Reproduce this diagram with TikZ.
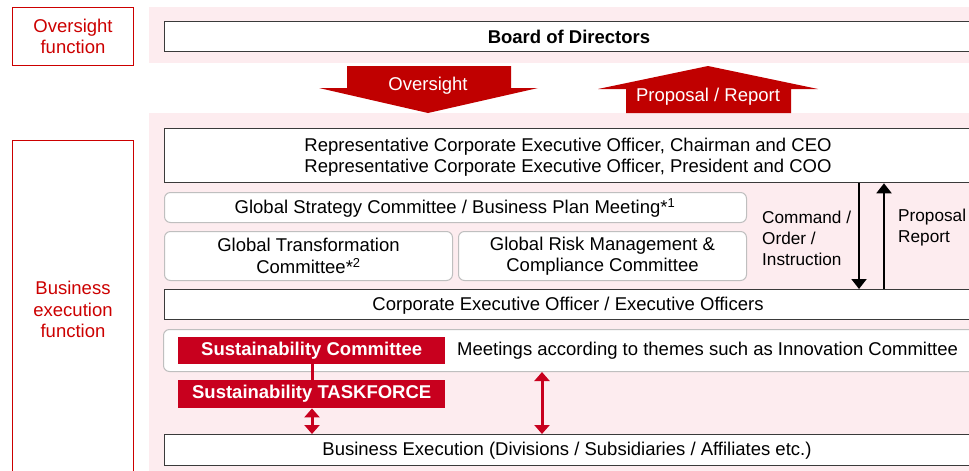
\documentclass[tikz,border=0pt]{standalone}
\usepackage{fontspec}
\setmainfont{Liberation Sans}
\usetikzlibrary{arrows.meta}
\definecolor{bandpink}{HTML}{FDECEF}
\definecolor{darkred}{HTML}{C00000}
\definecolor{sustred}{HTML}{C8001E}
\definecolor{labelred}{HTML}{CC0000}
\definecolor{boxline}{HTML}{3A3A3A}
\definecolor{roundline}{HTML}{BFBFBF}
\tikzset{
  every node/.style={font=\fontsize{18.5}{21.5}\selectfont, inner sep=0pt},
  band/.style={fill=bandpink, draw=none},
  sqbox/.style={draw=boxline, line width=1.3pt, fill=white, anchor=north west},
  rbox/.style={draw=roundline, line width=1pt, fill=white, rounded corners=6pt, anchor=north west},
  fnbox/.style={draw=labelred, line width=1pt, text=labelred, align=center, anchor=north west},
  susbox/.style={fill=sustred, text=white, font=\fontsize{18.5}{21.5}\selectfont\bfseries, anchor=north west},
  sidelabel/.style={align=left, anchor=west, font=\fontsize{17.2}{21}\selectfont},
  bigarrow/.style={fill=darkred, draw=none},
  blackarrow/.style={line width=2pt, -{Triangle[width=15pt,length=10pt]}},
  redarrow/.style={draw=sustred, line width=3pt, {Triangle[width=15pt,length=9pt]}-{Triangle[width=15pt,length=9pt]}},
}
\begin{document}
\begin{tikzpicture}[x=1pt, y=-1pt]
\useasboundingbox (0,0) rectangle (969,471);
% bands
\fill[band] (149,7) rectangle (969,63);
\fill[band] (149,113) rectangle (969,471);
% function labels
\node[fnbox, minimum width=121pt, minimum height=58pt] (ovf) at (12,7) {Oversight\\function};
\node[fnbox, minimum width=121pt, minimum height=338pt] (bef) at (12,140) {Business\\execution\\function};
% board
\node[sqbox, minimum width=810pt, minimum height=30pt] (board) at (164,21) {};
\node[font=\fontsize{18.5}{21.5}\selectfont\bfseries] (boardt) at (569,37) {Board of Directors};
% big arrows
\fill[bigarrow] (347,66) -- (511,66) -- (511,88) -- (538,88) -- (428,113) -- (319,88) -- (347,88) -- cycle;
\node[text=white] (ovt) at (428,86) {Oversight};
\fill[bigarrow] (626,113) -- (791,113) -- (791,89) -- (818,89) -- (708,66) -- (598,89) -- (626,89) -- cycle;
\node[text=white] (prt) at (708,97) {Proposal / Report};
% representative
\node[sqbox, minimum width=810pt, minimum height=54pt] (rep) at (164,128) {};
\node[align=center] (rept) at (568,157) {Representative Corporate Executive Officer, Chairman and CEO\\Representative Corporate Executive Officer, President and COO};
% committees
\node[rbox, minimum width=582pt, minimum height=30pt] (gsc) at (164,192) {};
\node (gsct) at (455,208) {Global Strategy Committee / Business Plan Meeting*\textsuperscript{1}};
\node[rbox, minimum width=288pt, minimum height=49pt, align=center] (gtc) at (164,231) {Global Transformation\\Committee*\textsuperscript{2}};
\node[rbox, minimum width=288pt, minimum height=49pt, align=center] (grc) at (458,231) {Global Risk Management \&\\Compliance Committee};
\node[sidelabel] (cmd) at (762,238) {Command /\\Order /\\Instruction};
\node[sidelabel] (prp) at (898,228) {Proposal\\Report};
% corporate executive officers
\node[sqbox, minimum width=810pt, minimum height=30pt] (ceo) at (164,289) {};
\node (ceot) at (568,306) {Corporate Executive Officer / Executive Officers};
\coordinate (xa) at (859,0);
\coordinate (xb) at (884,0);
\draw[blackarrow] (rep.south -| xa) -- (ceo.north -| xa);
\draw[blackarrow] (ceo.north -| xb) -- (rep.south -| xb);
% meetings
\node[rbox, minimum width=815pt, minimum height=42pt] (mtg) at (163,329) {};
\node[anchor=west] (mtgt) at (457,351) {Meetings according to themes such as Innovation Committee};
\node[susbox, minimum width=267pt, minimum height=27pt] (susc) at (178,337) {Sustainability Committee};
\node[susbox, minimum width=267pt, minimum height=28pt] (tf) at (178,380) {Sustainability TASKFORCE};
\coordinate (xc) at (312,0);
\coordinate (xd) at (542,0);
\draw[sustred, line width=3pt] (susc.south -| xc) -- (tf.north -| xc);
% business execution
\node[sqbox, minimum width=810pt, minimum height=31pt] (bex) at (164,434) {};
\node (bext) at (567,451) {Business Execution (Divisions / Subsidiaries / Affiliates etc.)};
\draw[redarrow] (tf.south -| xc) -- (bex.north -| xc);
\draw[redarrow] (mtg.south -| xd) -- (bex.north -| xd);
\end{tikzpicture}
\end{document}
